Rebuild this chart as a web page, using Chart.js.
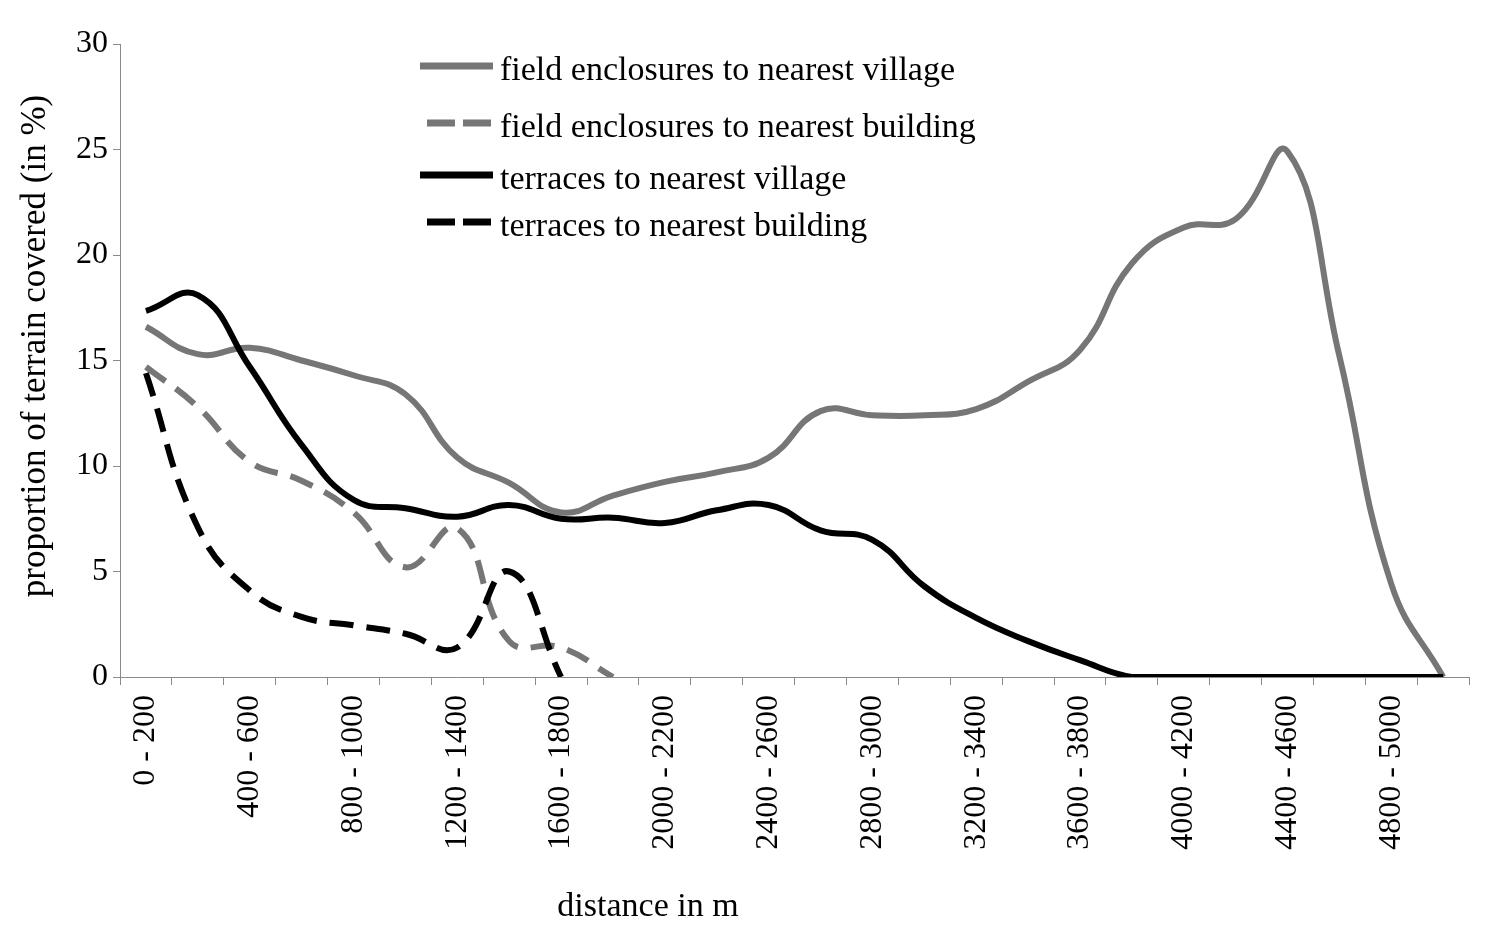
<!DOCTYPE html>
<html>
<head>
<meta charset="utf-8">
<script src="https://cdn.jsdelivr.net/npm/chart.js@4.4.1/dist/chart.umd.min.js"></script>
<style>
  html, body { margin: 0; padding: 0; background: #fff; }
  #wrap { width: 1492px; height: 937px; }
</style>
</head>
<body>
<div id="wrap"><canvas id="myChart" width="1492" height="937"></canvas></div>
<script>
// distance classes (m)
const categories = [
    '0 - 200', '200 - 400', '400 - 600', '600 - 800', '800 - 1000', '1000 - 1200',
    '1200 - 1400', '1400 - 1600', '1600 - 1800', '1800 - 2000', '2000 - 2200', '2200 - 2400',
    '2400 - 2600', '2600 - 2800', '2800 - 3000', '3000 - 3200', '3200 - 3400', '3400 - 3600',
    '3600 - 3800', '3800 - 4000', '4000 - 4200', '4200 - 4400', '4400 - 4600', '4600 - 4800',
    '4800 - 5000', '5000 - 5200'
];

const seriesNames = [
    'field enclosures to nearest village',
    'field enclosures to nearest building',
    'terraces to nearest village',
    'terraces to nearest building'
];

// proportion of terrain covered (in %)
const fieldVillage = [16.6, 15.3, 15.6, 15.0, 14.3, 13.4, 10.4, 9.2, 7.8, 8.6, 9.25, 9.7, 10.4,
    12.6, 12.4, 12.4, 12.7, 14.0, 15.5, 19.6, 21.3, 21.7, 24.9, 15.2, 4.4, 0];
const fieldBuilding = [14.7, 12.8, 10.2, 9.3, 7.8, 5.2, 7.05, 1.7, 1.4, 0, null, null, null,
    null, null, null, null, null, null, null, null, null, null, null, null, null];
const terraceVillage = [17.35, 18.1, 14.7, 11.0, 8.4, 8.0, 7.6, 8.15, 7.5, 7.55, 7.3, 7.9, 8.15,
    6.95, 6.5, 4.3, 2.8, 1.7, 0.8, 0, 0, 0, 0, 0, 0, 0];
const terraceBuilding = [14.4, 7.1, 4.1, 2.85, 2.45, 2.05, 1.4, 5.0, 0, null, null, null, null,
    null, null, null, null, null, null, null, null, null, null, null, null, null];

const yTicks = [0, 5, 10, 15, 20, 25, 30];

const gray = '#767676';
const axisGray = '#8a8a8a';
const serif = '"Liberation Serif", "DejaVu Serif", serif';

// legend + axis titles drawn at the places they sit in the original figure
const overlay = {
    id: 'overlay',
    afterDraw(chart) {
        const ctx = chart.ctx;
        const rows = [66, 123, 175, 222];
        ctx.save();
        ctx.font = '34px ' + serif;
        ctx.textBaseline = 'middle';
        chart.data.datasets.forEach((ds, i) => {
            const y = rows[i];
            ctx.strokeStyle = ds.borderColor;
            ctx.lineWidth = 7;
            ctx.setLineDash(ds.borderDash ? [28, 8] : []);
            ctx.beginPath();
            ctx.moveTo(ds.borderDash ? 427 : 420, y);
            ctx.lineTo(493, y);
            ctx.stroke();
            ctx.setLineDash([]);
            ctx.fillStyle = '#000';
            ctx.textAlign = 'left';
            ctx.fillText(ds.label, 500, y + 5);
        });

        ctx.textAlign = 'center';
        ctx.fillText('distance in m', 648, 907);

        ctx.font = '35px ' + serif;
        ctx.translate(36, 346);
        ctx.rotate(-Math.PI / 2);
        ctx.fillText('proportion of terrain covered (in %)', 0, 0);
        ctx.restore();
    }
};

function lineSet(label, data, color, dashed, order) {
    return {
        label: label,
        data: data,
        borderColor: color,
        backgroundColor: color,
        borderWidth: 6,
        borderDash: dashed ? [24, 13] : undefined,
        borderCapStyle: 'butt',
        pointRadius: 0,
        tension: 0.45,
        fill: false,
        spanGaps: false,
        order: order
    };
}

const ctx = document.getElementById('myChart').getContext('2d');
const chart = new Chart(ctx, {
    type: 'line',
    data: {
        labels: categories,
        datasets: [
            lineSet(seriesNames[0], fieldVillage, gray, false, 4),
            lineSet(seriesNames[1], fieldBuilding, gray, true, 3),
            lineSet(seriesNames[2], terraceVillage, '#000', false, 2),
            lineSet(seriesNames[3], terraceBuilding, '#000', true, 1)
        ]
    },
    options: {
        responsive: false,
        animation: false,
        layout: { padding: { left: 0, top: 44, right: 20, bottom: 0 } },
        plugins: {
            legend: { display: false },
            tooltip: { enabled: false }
        },
        scales: {
            x: {
                type: 'category',
                offset: true,
                grid: {
                    display: true,
                    drawOnChartArea: false,
                    offset: true,
                    tickLength: 8,
                    color: axisGray,
                    lineWidth: 1
                },
                border: { display: true, color: axisGray, width: 1 },
                ticks: {
                    autoSkip: false,
                    minRotation: 90,
                    maxRotation: 90,
                    padding: 10,
                    color: '#000',
                    font: { family: serif, size: 32 },
                    callback: function(value, index) {
                        return index % 2 === 0 ? this.getLabelForValue(value) : '';
                    }
                },
                afterFit(scale) { scale.height = 260; }
            },
            y: {
                min: 0,
                max: 30,
                afterBuildTicks(scale) {
                    scale.ticks = yTicks.map(v => ({ value: v }));
                },
                grid: {
                    drawOnChartArea: false,
                    tickLength: 7,
                    color: axisGray,
                    lineWidth: 1
                },
                border: { display: true, color: axisGray, width: 1 },
                ticks: {
                    padding: 5,
                    color: '#000',
                    font: { family: serif, size: 32 }
                },
                afterFit(scale) { scale.width = 120; }
            }
        }
    },
    plugins: [overlay]
});
</script>
</body>
</html>
